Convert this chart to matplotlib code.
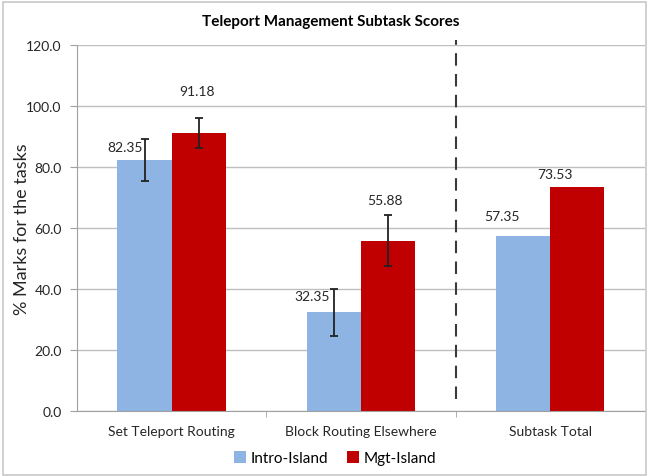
import matplotlib
matplotlib.use("Agg")
import matplotlib.pyplot as plt
import numpy as np
from matplotlib.patches import Rectangle

categories = ["Set Teleport Routing", "Block Routing Elsewhere", "Subtask Total"]
intro = [82.35, 32.35, 57.35]
mgt = [91.18, 55.88, 73.53]
intro_err = [6.9, 7.8, 0]
mgt_err = [4.8, 8.5, 0]
series_names = ["Intro-Island", "Mgt-Island"]
yticks = [0, 20, 40, 60, 80, 100, 120]

plt.rcParams['font.family'] = ['Lato', 'DejaVu Sans']

fig = plt.figure(figsize=(6.49, 4.77), dpi=100)
ax = fig.add_axes([0.1186, 0.1363, 0.9938 - 0.1186, 0.9036 - 0.1363])

x = np.arange(len(categories))
w = 0.286
c_intro = "#8DB4E2"
c_mgt = "#C00000"
b1 = ax.bar(x - w / 2, intro, w, color=c_intro, label=series_names[0], zorder=2)
b2 = ax.bar(x + w / 2, mgt, w, color=c_mgt, label=series_names[1], zorder=2)

idx = [0, 1]
ax.errorbar(x[idx] - w / 2, [intro[i] for i in idx], yerr=[intro_err[i] for i in idx],
            fmt='none', ecolor='#222222', elinewidth=1.3, capsize=3, capthick=1.3, zorder=3)
ax.errorbar(x[idx] + w / 2, [mgt[i] for i in idx], yerr=[mgt_err[i] for i in idx],
            fmt='none', ecolor='#222222', elinewidth=1.3, capsize=3, capthick=1.3, zorder=3)

# label offsets in points (dx, dy)
intro_off = [(-14, 9.5), (-16, 12), (-15, 14.5)]
mgt_off = [(-1.5, 30), (-2, 29.5), (-16.5, 9.5)]
for i in range(len(categories)):
    ax.annotate(f"{intro[i]:.2f}", (x[i] - w / 2, intro[i]), xytext=intro_off[i],
                textcoords='offset points', ha='center', va='center', fontsize=10, color='#262626')
    ax.annotate(f"{mgt[i]:.2f}", (x[i] + w / 2, mgt[i]), xytext=mgt_off[i],
                textcoords='offset points', ha='center', va='center', fontsize=10, color='#262626')

ax.set_xlim(-0.5, 2.5)
ax.set_ylim(0, 120)
ax.set_yticks(yticks)
ax.set_yticklabels([f"{v:.1f}" for v in yticks], fontsize=10, color='#262626')
ax.set_xticks(x)
ax.set_xticklabels(categories, fontsize=10, color='#262626')
ax.tick_params(axis='x', length=0, pad=10)
ax.tick_params(axis='y', length=5, color='#a0a0a0', pad=6)
ax.set_xticks([0.5, 1.5], minor=True)
ax.tick_params(axis='x', which='minor', length=4, color='#a0a0a0')
ax.grid(axis='y', color='#bfbfbf', linewidth=1, zorder=0)
ax.set_axisbelow(True)
for s in ['top', 'right']:
    ax.spines[s].set_visible(False)
ax.spines['left'].set_color('#a0a0a0')
ax.spines['bottom'].set_color('#a0a0a0')

ax.plot([1.5, 1.5], [4, 121.5], linestyle=(0, (6, 4)), color='#3a3a3a', linewidth=1.5,
        clip_on=False, zorder=4)

fig.text(22 / 649, 0.52, "% Marks for the tasks", rotation=90, ha='center', va='center',
         fontsize=13, color='#262626')
fig.text(0.510, 0.954, "Teleport Management Subtask Scores", ha='center', va='center',
         fontsize=11, fontweight='bold', color='#000000')

fig.legend(handles=[b1, b2], labels=series_names, loc='center', bbox_to_anchor=(0.516, 0.037),
           ncol=2, frameon=False, fontsize=11, handlelength=0.8, handleheight=0.8,
           columnspacing=1.2, handletextpad=0.3)

fig.patches.append(Rectangle((0.004, 0.003), 0.992, 0.99, transform=fig.transFigure,
                             fill=False, edgecolor='#c8c8c8', linewidth=1.2))

fig.savefig("out.png", dpi=100)
